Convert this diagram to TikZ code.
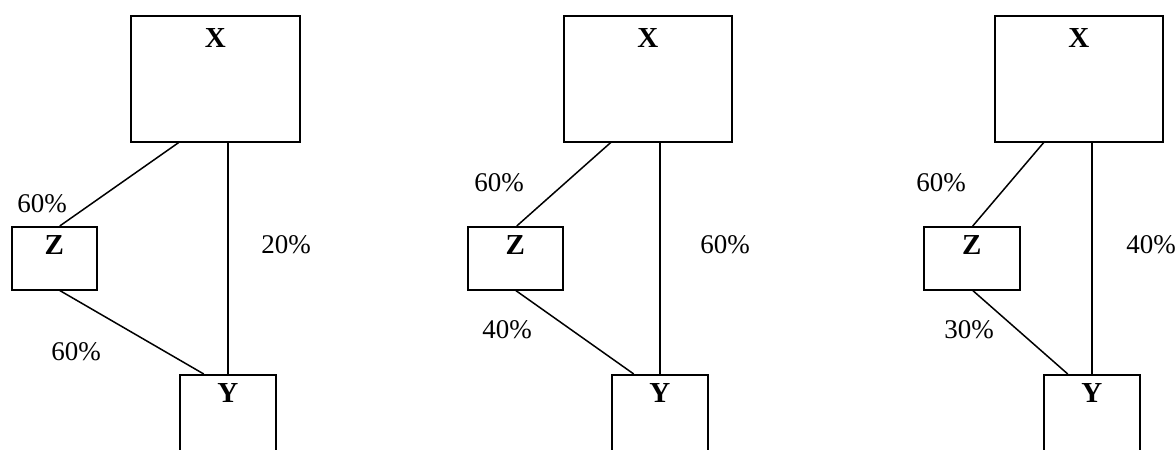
\documentclass[tikz,border=0pt]{standalone}
\usepackage{fontspec}
\setmainfont{Liberation Serif}
\usepackage{tikz}

\begin{document}
\begin{tikzpicture}[x=1pt,y=-1pt,line width=1.5pt,
    box/.style={draw,rectangle,inner sep=0pt,anchor=north west},
    boxlbl/.style={font=\fontsize{29}{33}\selectfont\bfseries,anchor=north,inner sep=0pt},
    pct/.style={font=\fontsize{27}{31}\selectfont,inner sep=0pt}]
    \useasboundingbox (0,0) rectangle (1176,450);

    % First case
    \node[box,minimum width=169pt,minimum height=126pt,label={[boxlbl,yshift=-13pt]north:X}] (x1) at (130,15) {};
    \node[box,minimum width=85pt,minimum height=63pt,label={[boxlbl,yshift=-9pt]north:Z}] (z1) at (11,226) {};
    \node[box,minimum width=96pt,minimum height=90pt,label={[boxlbl,yshift=-9pt]north:Y}] (y1) at (179,374) {};
    \draw ([xshift=-36.5pt]x1.south) -- ([xshift=5.5pt]z1.north);
    \draw ([xshift=12.5pt]x1.south) -- (y1.north);
    \draw ([xshift=5.5pt]z1.south) -- ([xshift=-24pt]y1.north);
    \node[pct] (xz1) at (42,204) {60\%};
    \node[pct] (xy1) at (286,245) {20\%};
    \node[pct] (zy1) at (76,352) {60\%};

    % Second case
    \node[box,minimum width=168pt,minimum height=126pt,label={[boxlbl,yshift=-13pt]north:X}] (x2) at (563,15) {};
    \node[box,minimum width=95pt,minimum height=63pt,label={[boxlbl,yshift=-9pt]north:Z}] (z2) at (467,226) {};
    \node[box,minimum width=96pt,minimum height=90pt,label={[boxlbl,yshift=-9pt]north:Y}] (y2) at (611,374) {};
    \draw ([xshift=-37pt]x2.south) -- ([xshift=1.5pt]z2.north);
    \draw ([xshift=12pt]x2.south) -- (y2.north);
    \draw ([xshift=0.5pt]z2.south) -- ([xshift=-26pt]y2.north);
    \node[pct] (xz2) at (499,183) {60\%};
    \node[pct] (xy2) at (725,245) {60\%};
    \node[pct] (zy2) at (507,330) {40\%};

    % Third case
    \node[box,minimum width=168pt,minimum height=126pt,label={[boxlbl,yshift=-13pt]north:X}] (x3) at (994,15) {};
    \node[box,minimum width=96pt,minimum height=63pt,label={[boxlbl,yshift=-9pt]north:Z}] (z3) at (923,226) {};
    \node[box,minimum width=96pt,minimum height=90pt,label={[boxlbl,yshift=-9pt]north:Y}] (y3) at (1043,374) {};
    \draw ([xshift=-35pt]x3.south) -- ([xshift=1pt]z3.north);
    \draw ([xshift=13pt]x3.south) -- (y3.north);
    \draw ([xshift=1pt]z3.south) -- ([xshift=-24pt]y3.north);
    \node[pct] (xz3) at (941,183) {60\%};
    \node[pct] (xy3) at (1151,245) {40\%};
    \node[pct] (zy3) at (969,330) {30\%};
\end{tikzpicture}
\end{document}
